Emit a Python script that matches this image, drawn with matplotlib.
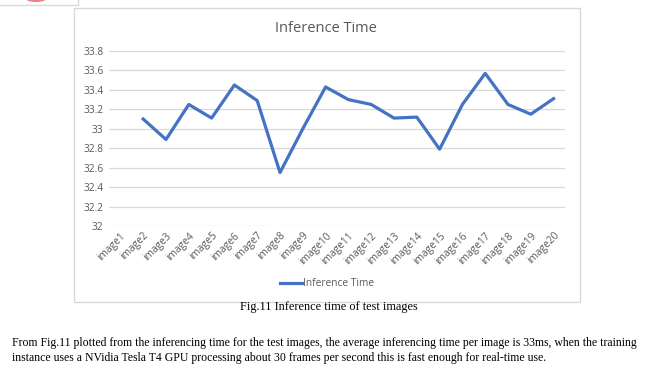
import numpy as np
import matplotlib
matplotlib.use('Agg')
import matplotlib.pyplot as plt
from matplotlib.patches import Rectangle, Ellipse
from matplotlib.ticker import FuncFormatter

#--------------------------------------
# Data (image1 has no point)
#--------------------------------------
images = ['image%d' % i for i in range(1, 21)]
inference_time = [np.nan, 33.10, 32.89, 33.25, 33.11, 33.45, 33.29, 32.55, 33.00, 33.43,
                  33.30, 33.25, 33.11, 33.12, 32.79, 33.25, 33.57, 33.25, 33.15, 33.31]
y_ticks = [32, 32.2, 32.4, 32.6, 32.8, 33, 33.2, 33.4, 33.6, 33.8]

caption = 'Fig.11 Inference time of test images'
para1 = ('From Fig.11 plotted from the inferencing time for the test images, the average '
         'inferencing time per image is 33ms, when the training')
para2 = ('instance uses a NVidia Tesla T4 GPU processing about 30 frames per second this '
         'is fast enough for real-time use.')

W, H = 655, 372
grey = '#595959'
blue = '#4472C4'
sans = ['Open Sans', 'DejaVu Sans']
serif = ['Liberation Serif', 'DejaVu Serif']
fs = 7.3

fig = plt.figure(figsize=(W / 100, H / 100), dpi=100)
fig.patch.set_facecolor('white')

#--------------------------------------
# Chart frame and page bits
#--------------------------------------
def px(x0, y0, x1, y1):
    return (x0 / W, 1 - y1 / H), (x1 - x0) / W, (y1 - y0) / H

(xy, w, h) = px(74, 8, 580, 302)
fig.add_artist(Rectangle(xy, w, h, transform=fig.transFigure, fill=False,
                         edgecolor='#d9d9d9', lw=1))
fig.add_artist(plt.Line2D([0, 78 / W, 78 / W], [1 - 5 / H, 1 - 5 / H, 1],
                          transform=fig.transFigure, color='#d9d9d9', lw=1))
fig.add_artist(Ellipse((36 / W, 1 + 1 / H), 20 / W, 6 / H, transform=fig.transFigure,
                       color='#f08080', lw=0))

#--------------------------------------
# Line chart
#--------------------------------------
ax = fig.add_axes([109 / W, 1 - 226 / H, (565 - 109) / W, (226 - 51) / H])
x = np.arange(len(images))
ax.plot(x, inference_time, color=blue, lw=2.3, solid_joinstyle='round',
        label='Inference Time')
ax.set_xlim(-0.5, len(images) - 0.5)
ax.set_ylim(32, 33.8)
ax.set_yticks(y_ticks)
ax.yaxis.set_major_formatter(FuncFormatter(lambda v, p: '%g' % round(v, 1)))
ax.set_xticks(x)
ax.set_xticklabels(images, rotation=45, ha='right', rotation_mode='anchor',
                   fontsize=fs, color=grey, family=sans)
for t in ax.get_yticklabels():
    t.set_fontsize(fs)
    t.set_color(grey)
    t.set_family(sans)
ax.grid(axis='y', color='#d9d9d9', lw=0.9)
ax.set_axisbelow(True)
for s in ax.spines.values():
    s.set_visible(False)
ax.tick_params(length=0, pad=4)
ax.tick_params(axis='x', pad=3)

fig.text(326 / W, 1 - 28 / H, 'Inference Time', ha='center', va='center',
         fontsize=10.5, color=grey, family=sans)

ax.legend(loc='center', bbox_to_anchor=(327 / W, 1 - 284 / H),
          bbox_transform=fig.transFigure, frameon=False,
          handlelength=2.2, handletextpad=0.1, labelcolor=grey,
          prop={'family': sans, 'size': fs})

#--------------------------------------
# Caption and paragraph
#--------------------------------------
fig.text(329 / W, 1 - 307 / H, caption, ha='center', va='center',
         fontsize=8.8, family=serif, color='black')
fig.text(12 / W, 1 - 343 / H, para1, ha='left', va='center',
         fontsize=8.5, family=serif, color='black')
fig.text(12 / W, 1 - 358 / H, para2, ha='left', va='center',
         fontsize=8.5, family=serif, color='black')

plt.savefig('out.png', dpi=100)
